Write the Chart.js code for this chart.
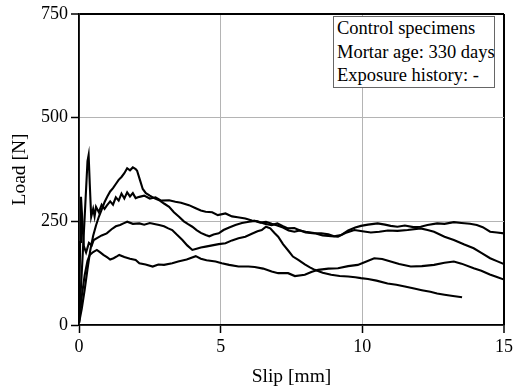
<!DOCTYPE html>
<html>
<head>
<meta charset="utf-8">
<script src="https://cdn.jsdelivr.net/npm/chart.js@4"></script>
<style>
  body { margin: 0; background: #fff; }
  #wrap { position: relative; width: 516px; height: 392px; }
  #note {
    position: absolute; left: 333px; top: 16px; width: 162px; height: 72px;
    box-sizing: border-box; border: 1px solid #666; background: #fff;
    font-family: "Liberation Serif", "Times New Roman", serif; font-size: 18.5px;
    line-height: 23.5px; padding: 0 0 0 3px; color: #000; white-space: nowrap;
  }
</style>
</head>
<body>
<div id="wrap">
  <canvas id="slipChart" width="516" height="392"></canvas>
  <div id="note">Control specimens<br>Mortar age: 330 days<br>Exposure history: -</div>
</div>
<script>
// slip / load curves

// specimen with the 380 N hump
const slipA = [0, 0.1, 0.2, 0.3, 0.4, 0.5, 0.6, 0.7, 0.8, 0.9, 1.0, 1.1, 1.2, 1.3, 1.4, 1.5, 1.6, 1.7, 1.8, 1.9, 2.0, 2.05, 2.15, 2.25, 2.36, 2.5, 2.65, 2.83, 3.0, 3.18, 3.35, 3.53, 3.7, 3.85, 4.0, 4.15, 4.3, 4.47, 4.6, 4.75, 4.93, 5.1, 5.3, 5.52, 5.75, 6.0, 6.2, 6.4, 6.6, 6.8, 7.0, 7.2, 7.4, 7.6, 7.8, 8.0, 8.32, 8.6, 8.9, 9.14, 9.4, 9.72, 10.0, 10.3, 10.6, 10.9, 11.24, 11.6, 12.06, 12.3, 12.53, 12.9, 13.23, 13.6, 13.93, 14.2, 14.51, 14.75, 15];
const loadA = [5, 40, 85, 135, 181, 215, 240, 261, 278, 296, 310, 322, 330, 340, 350, 357, 366, 378, 373, 380, 376, 372, 350, 328, 318, 312, 306, 301, 293, 285, 272, 261, 250, 243, 237, 229, 222, 217, 214, 218, 221, 229, 235, 241, 246, 249, 251, 247, 249, 244, 240, 235, 228, 225, 228, 223, 221, 216, 214, 213, 222, 229, 226, 223, 225, 228, 227, 229, 233, 229, 225, 213, 205, 194, 185, 174, 161, 154, 147];

// specimen with the early 410 N spike
const slipB = [0, 0.1, 0.2, 0.3, 0.34, 0.38, 0.43, 0.5, 0.55, 0.6, 0.7, 0.8, 0.9, 0.98, 1.1, 1.2, 1.3, 1.4, 1.5, 1.6, 1.7, 1.8, 1.9, 2.0, 2.13, 2.3, 2.5, 2.7, 2.9, 3.18, 3.4, 3.6, 3.88, 4.1, 4.3, 4.47, 4.7, 4.9, 5.17, 5.4, 5.6, 5.87, 6.1, 6.3, 6.55, 6.8, 7.0, 7.2, 7.38, 7.6, 7.8, 8.0, 8.3, 8.55, 8.8, 9.0, 9.25, 9.5, 9.75, 9.95, 10.2, 10.54, 10.8, 11.0, 11.24, 11.5, 11.8, 12.06, 12.3, 12.64, 12.9, 13.23, 13.5, 13.8, 14.04, 14.25, 14.51, 14.75, 15];
const loadB = [5, 130, 260, 395, 410, 340, 261, 280, 262, 285, 272, 290, 280, 288, 298, 290, 308, 300, 317, 305, 320, 310, 318, 306, 309, 312, 305, 308, 300, 301, 297, 295, 289, 282, 276, 273, 272, 265, 269, 262, 260, 257, 252, 250, 244, 241, 245, 238, 233, 234, 228, 225, 222, 221, 219, 214, 217, 228, 235, 239, 242, 245, 242, 239, 237, 240, 236, 237, 241, 245, 244, 248, 246, 244, 241, 236, 225, 223, 221];

// specimen near 250 N that drops after 6.6 mm and stops at 13.5 mm
const slipC = [0, 0.04, 0.07, 0.12, 0.17, 0.25, 0.35, 0.45, 0.52, 0.65, 0.8, 0.98, 1.15, 1.3, 1.45, 1.57, 1.7, 1.9, 2.13, 2.3, 2.5, 2.7, 2.83, 3.0, 3.15, 3.29, 3.45, 3.65, 3.82, 4.0, 4.15, 4.3, 4.47, 4.7, 4.93, 5.17, 5.4, 5.63, 5.87, 6.1, 6.3, 6.45, 6.6, 6.75, 6.9, 7.03, 7.2, 7.39, 7.55, 7.74, 7.97, 8.15, 8.32, 8.6, 8.9, 9.2, 9.5, 9.75, 9.95, 10.2, 10.5, 10.89, 11.2, 11.5, 11.83, 12.1, 12.4, 12.64, 12.9, 13.2, 13.52];
const loadC = [5, 200, 309, 250, 190, 175, 198, 192, 205, 210, 216, 221, 231, 238, 241, 245, 249, 244, 245, 242, 246, 243, 241, 238, 233, 229, 218, 205, 192, 181, 184, 187, 189, 192, 195, 197, 204, 209, 213, 220, 226, 229, 237, 233, 222, 213, 195, 179, 165, 157, 146, 139, 133, 126, 121, 118, 117, 115, 113, 111, 107, 100, 97, 93, 88, 84, 80, 76, 73, 70, 67];

// lowest specimen
const slipD = [0, 0.1, 0.2, 0.3, 0.38, 0.5, 0.63, 0.75, 0.86, 1.0, 1.1, 1.22, 1.35, 1.42, 1.6, 1.8, 2.0, 2.13, 2.35, 2.6, 2.8, 3.0, 3.29, 3.5, 3.8, 4.12, 4.3, 4.5, 4.82, 5.04, 5.3, 5.63, 5.98, 6.2, 6.5, 6.8, 7.03, 7.38, 7.62, 7.97, 8.2, 8.44, 8.8, 9.14, 9.5, 9.84, 10.1, 10.42, 10.7, 11.0, 11.3, 11.71, 12.1, 12.53, 12.9, 13.23, 13.5, 13.93, 14.2, 14.5, 14.75, 14.98];
const loadD = [5, 70, 120, 155, 169, 176, 181, 175, 169, 163, 158, 161, 166, 169, 164, 160, 157, 149, 146, 141, 146, 145, 149, 153, 158, 166, 160, 156, 153, 149, 145, 141, 141, 140, 136, 129, 125, 125, 118, 121, 128, 133, 136, 137, 142, 145, 152, 161, 159, 153, 147, 141, 142, 145, 150, 153, 148, 137, 131, 122, 116, 110];

const xTicks = [0, 5, 10, 15];
const yTicks = [0, 250, 500, 750];

const toPoints = (xs, ys) => xs.map((x, i) => ({ x: x, y: ys[i] }));

const serif = '"Liberation Serif", "Times New Roman", serif';

const curve = (label, xs, ys) => ({
    label: label,
    data: toPoints(xs, ys),
    borderColor: '#000',
    borderWidth: 2.1,
    pointRadius: 0,
    tension: 0,
    fill: false
});

const gridColor = ctx => {
    const v = ctx.tick ? ctx.tick.value : null;
    return (v === 15 || v === 750) ? '#000' : '#b4b4b4';
};
const gridWidth = ctx => {
    const v = ctx.tick ? ctx.tick.value : null;
    return (v === 15 || v === 750) ? 2 : 1;
};

const ctx = document.getElementById('slipChart').getContext('2d');
const slipChart = new Chart(ctx, {
    type: 'line',
    data: {
        datasets: [
            curve('A', slipA, loadA),
            curve('B', slipB, loadB),
            curve('C', slipC, loadC),
            curve('D', slipD, loadD)
        ]
    },
    options: {
        responsive: false,
        animation: false,
        devicePixelRatio: 1,
        layout: { padding: { top: 14, right: 9, left: 0, bottom: 0 } },
        plugins: { legend: { display: false }, tooltip: { enabled: false } },
        scales: {
            x: {
                type: 'linear',
                min: 0,
                max: 15,
                afterBuildTicks: s => { s.ticks = xTicks.map(v => ({ value: v })); },
                afterFit: s => { s.height = 67; },
                grid: { color: gridColor, lineWidth: gridWidth, tickLength: 8, tickColor: '#000', tickWidth: 1.5 },
                border: { color: '#000', width: 1.8 },
                ticks: { color: '#000', padding: 3, maxRotation: 0, font: { family: serif, size: 18 } },
                title: { display: true, text: 'Slip [mm]', color: '#000', padding: { top: 0, bottom: 3 }, font: { family: serif, size: 19.5 } }
            },
            y: {
                min: 0,
                max: 750,
                afterBuildTicks: s => { s.ticks = yTicks.map(v => ({ value: v })); },
                afterFit: s => { s.width = 79; },
                grid: { color: gridColor, lineWidth: gridWidth, tickLength: 8, tickColor: '#000', tickWidth: 1.5 },
                border: { color: '#000', width: 1.8 },
                ticks: { color: '#000', padding: 3, font: { family: serif, size: 18 } },
                title: { display: true, text: 'Load [N]', color: '#000', padding: { top: 8, bottom: 0 }, font: { family: serif, size: 19.5 } }
            }
        }
    }
});
</script>
</body>
</html>
